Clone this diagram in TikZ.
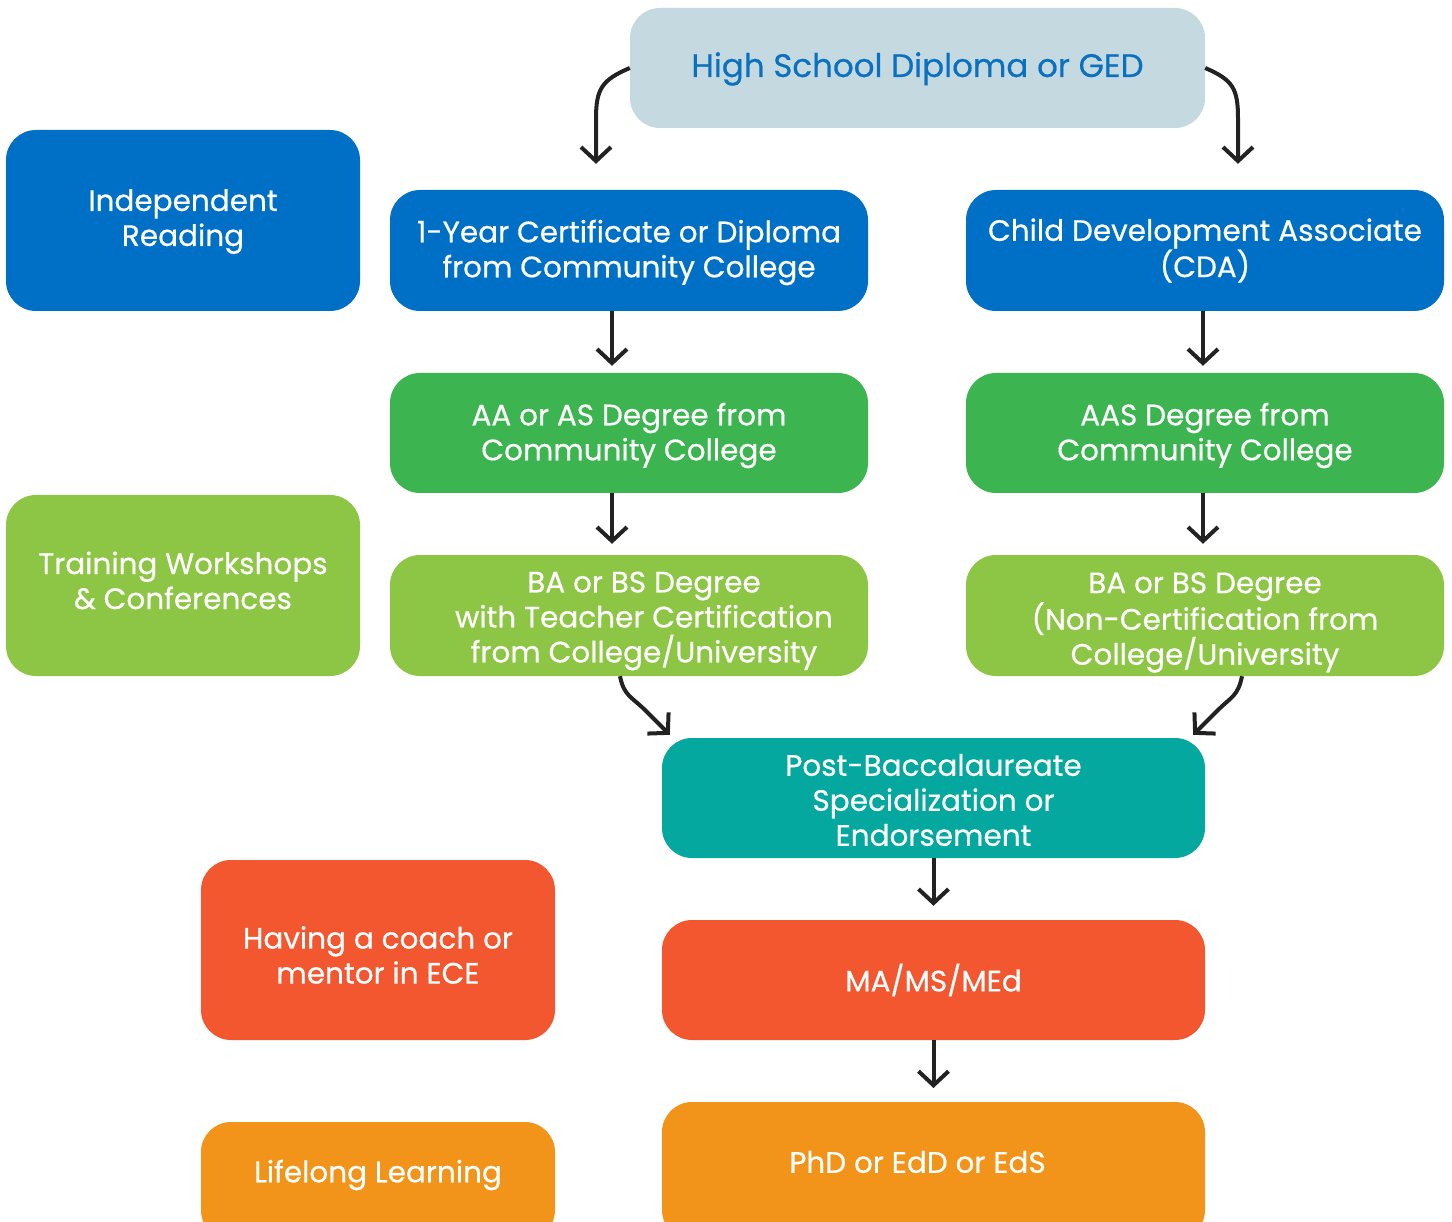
\documentclass[tikz,border=0pt]{standalone}
\usepackage{fontspec}
\setmainfont{Poppins}
\newfontfamily\medfont{Poppins}[FakeBold=0.5]
\usetikzlibrary{arrows.meta,calc}
\definecolor{hsfill}{HTML}{C5DAE0}
\definecolor{hstext}{HTML}{0A70C0}
\definecolor{cblue}{HTML}{0070C6}
\definecolor{cgreen}{HTML}{3CB44F}
\definecolor{clgreen}{HTML}{8CC644}
\definecolor{cteal}{HTML}{05A89E}
\definecolor{cred}{HTML}{F25730}
\definecolor{corange}{HTML}{F19419}
\definecolor{carrow}{HTML}{222222}
\tikzset{
  box/.style={rectangle, rounded corners=30pt, inner sep=0pt},
  txt/.style={inner sep=0pt, align=center, text=white, font=\medfont\fontsize{29.5}{35}\selectfont},
  flow/.style={draw=carrow, line width=4pt, -{Straight Barb[length=14pt,width=30pt]}},
}
\begin{document}
\begin{tikzpicture}[x=1pt,y=-1pt]
\useasboundingbox (0,0) rectangle (1452,1222);
\fill[white] (0,0) rectangle (1452,1222);
% boxes
\node[box, fill=hsfill, minimum width=575pt, minimum height=120pt] (HS) at (917.5,68) {};
\node[box, fill=cblue, minimum width=354pt, minimum height=181pt] (IR) at (183,220.5) {};
\node[box, fill=clgreen, minimum width=354pt, minimum height=181pt] (TW) at (183,585.5) {};
\node[box, fill=cred, minimum width=354pt, minimum height=180pt] (CO) at (378,950) {};
\node[box, fill=corange, minimum width=354pt, minimum height=118pt] (LL) at (378,1181) {};
\node[box, fill=cblue, minimum width=478pt, minimum height=121pt] (Y1) at (629,250.5) {};
\node[box, fill=cgreen, minimum width=478pt, minimum height=120pt] (AA) at (629,433) {};
\node[box, fill=clgreen, minimum width=478pt, minimum height=121pt] (BAL) at (629,615.5) {};
\node[box, fill=cblue, minimum width=478pt, minimum height=121pt] (CDA) at (1205,250.5) {};
\node[box, fill=cgreen, minimum width=478pt, minimum height=120pt] (AAS) at (1205,433) {};
\node[box, fill=clgreen, minimum width=478pt, minimum height=121pt] (BAR) at (1205,615.5) {};
\node[box, fill=cteal, minimum width=543pt, minimum height=120pt] (PB) at (933.5,798) {};
\node[box, fill=cred, minimum width=543pt, minimum height=120pt] (MA) at (933.5,980) {};
\node[box, fill=corange, minimum width=543pt, minimum height=138pt] (PHD) at (933.5,1171) {};
% texts
\node[txt, text=hstext, font=\medfont\fontsize{32.5}{38}\selectfont] (HSt) at ($(HS)+(0,1)$) {High School Diploma or GED};
\node[txt] (IRt) at ($(IR)+(0,1)$) {Independent\\Reading};
\node[txt] (TWt) at ($(TW)+(0,-5)$) {Training Workshops\\\& Conferences};
\node[txt] (COt) at ($(CO)+(0,5)$) {Having a coach or\\mentor in ECE};
\node[txt] (LLt) at (378,1175) {Lifelong Learning};
\node[txt] (Y1t) at ($(Y1)+(0,2)$) {1-Year Certificate or Diploma\\from Community College};
\node[txt] (AAt) at ($(AA)+(0,2.5)$) {AA or AS Degree from\\Community College};
\node[txt] (BALt) at (644,621) {BA or BS Degree\\with Teacher Certification\\from College/University};
\node[txt] (CDAt) at (CDA) {Child Development Associate\\(CDA)};
\node[txt] (AASt) at ($(AAS)+(0,2.5)$) {AAS Degree from\\Community College};
\node[txt] (BARt) at ($(BAR)+(0,7)$) {BA or BS Degree\\(Non-Certification from\\College/University};
\node[txt] (PBt) at ($(PB)+(0,2)$) {Post-Baccalaureate\\Specialization or\\Endorsement};
\node[txt] (MAt) at (MA) {MA/MS/MEd};
\node[txt] (PHDt) at (917.5,1162) {PhD or EdD or EdS};
% arrows
\coordinate (t1) at ($(Y1.north)+(-33,-26)$);
\coordinate (t2) at ($(CDA.north)+(33,-26)$);
\draw[flow] (HS.west) .. controls +(-28,12) and +(0,-30) .. ($(t1)+(0,-45)$) -- (t1);
\draw[flow] (HS.east) .. controls +(28,12) and +(0,-30) .. ($(t2)+(0,-45)$) -- (t2);
\draw[flow, shorten >=7pt] ([xshift=-17pt]Y1.south) -- ([xshift=-17pt]AA.north);
\draw[flow, shorten >=7pt] ([xshift=-2pt]CDA.south) -- ([xshift=-2pt]AAS.north);
\draw[flow, shorten >=11pt] ([xshift=-17pt]AA.south) -- ([xshift=-17pt]BAL.north);
\draw[flow, shorten >=11pt] ([xshift=-2pt]AAS.south) -- ([xshift=-2pt]BAR.north);
\coordinate (d1) at ($(PB.north west)+(8,-3)$);
\coordinate (d2) at ($(PB.north east)+(-12,-3)$);
\draw[flow] ([xshift=-9pt]BAL.south) .. controls +(4,20) and +(-14,-14) .. ($(d1)+(-24,-24)$) -- (d1);
\draw[flow] ([xshift=37pt]BAR.south) .. controls +(-4,20) and +(14,-14) .. ($(d2)+(24,-24)$) -- (d2);
\draw[flow, shorten >=14pt] (PB.south) -- (MA.north);
\draw[flow, shorten >=14pt] (MA.south) -- (PB.north |- 0,1102);
\end{tikzpicture}
\end{document}
